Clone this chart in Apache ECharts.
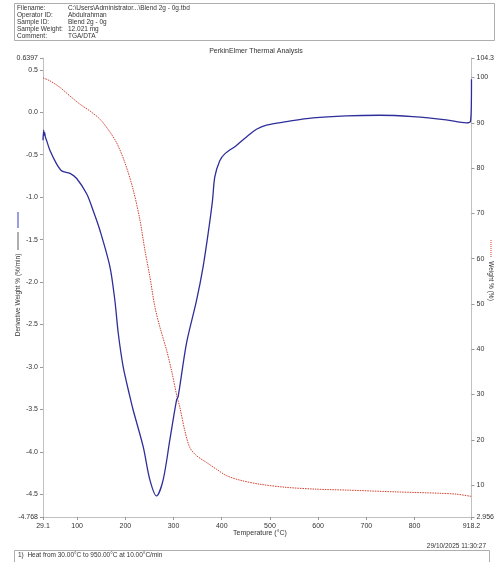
<!DOCTYPE html>
<html>
<head>
<meta charset="utf-8">
<script src="https://cdn.jsdelivr.net/npm/echarts@6/dist/echarts.min.js"></script>
<style>
html,body{margin:0;padding:0;background:#fff;}
#chart{width:497px;height:562px;}
</style>
</head>
<body>
<div id="chart"></div>
<script>
// Derivative weight curve (blue, left axis)
const blueTemp = [29.1, 30.5, 31.5, 32.5, 34, 37, 43.6, 57.5, 67.9, 85.1, 99.0, 119.7, 133.3, 147.2, 168, 178.3, 185.2, 195.5, 209.4, 216.3, 237, 250.9, 264.7, 278.4, 292.3, 306.2, 309.5, 326.9, 347.6, 361.3, 371.7, 380.8, 385.6, 395.9, 406.3, 430.5, 451.3, 472, 492.7, 534.2, 589.3, 658.5, 727.5, 796.6, 865.8, 907.2, 916, 918.0, 918.2];
const blueDeriv = [-0.33, -0.21, -0.27, -0.24, -0.29, -0.34, -0.45, -0.61, -0.69, -0.72, -0.78, -0.96, -1.16, -1.39, -1.82, -2.22, -2.60, -3.00, -3.35, -3.51, -3.94, -4.33, -4.52, -4.33, -3.86, -3.39, -3.35, -2.72, -2.22, -1.82, -1.43, -1.04, -0.76, -0.57, -0.49, -0.39, -0.29, -0.20, -0.15, -0.11, -0.066, -0.042, -0.035, -0.051, -0.089, -0.125, -0.11, 0.14, 0.39];

// Weight % curve (red dotted, right axis)
const redTemp = [29.1, 43.6, 64.3, 85.1, 105.8, 126.5, 147.2, 164.4, 181.8, 199.0, 216.3, 230.1, 240.5, 250.9, 261.2, 271.6, 285.5, 295.8, 307.4, 313.0, 323.4, 333.7, 347.6, 368.4, 389.1, 409.8, 437.4, 478.8, 534.2, 596.3, 658.5, 762.1, 851.9, 886.5, 918.2];
const redWeight = [99.9, 99.25, 97.8, 95.9, 94.1, 92.6, 90.8, 88.5, 85.6, 81.2, 75.2, 68.6, 61.9, 56.0, 49.4, 44.9, 39.8, 35.3, 29.4, 27.2, 22.0, 18.3, 16.5, 15.0, 13.5, 12.1, 11.1, 10.2, 9.5, 9.1, 8.9, 8.5, 8.2, 8.0, 7.5];

// Tick values and labels
const xTicks = [29.1, 100, 200, 300, 400, 500, 600, 700, 800, 918.2];
const xTickLabels = ['29.1', '100', '200', '300', '400', '500', '600', '700', '800', '918.2'];
const leftTicks = [-4.768, -4.5, -4.0, -3.5, -3.0, -2.5, -2.0, -1.5, -1.0, -0.5, 0.0, 0.5, 0.6397];
const leftTickLabels = ['-4.768', '-4.5', '-4.0', '-3.5', '-3.0', '-2.5', '-2.0', '-1.5', '-1.0', '-0.5', '0.0', '0.5', '0.6397'];
const rightTicks = [2.956, 10, 20, 30, 40, 50, 60, 70, 80, 90, 100, 104.3];
const rightTickLabels = ['2.956', '10', '20', '30', '40', '50', '60', '70', '80', '90', '100', '104.3'];

// Header texts
const headerLabels = ['Filename:', 'Operator ID:', 'Sample ID:', 'Sample Weight:', 'Comment:'];
const headerValues = ['C:\\Users\\Administrator...\\Blend 2g - 0g.tbd', 'Abdulrahman', 'Blend 2g - 0g', '12.021 mg', 'TGA/DTA'];

const FONT = 'Liberation Sans, Arial, sans-serif';
const lab = (ticks, labels) => v => {
  const i = ticks.findIndex(t => Math.abs(t - v) < 1e-6);
  return i >= 0 ? labels[i] : '';
};

const chart = echarts.init(document.getElementById('chart'), null, {renderer: 'canvas'});

const graphics = [];
// header box
graphics.push({type: 'rect', shape: {x: 14.5, y: 3.5, width: 480, height: 37}, style: {fill: 'none', stroke: '#999', lineWidth: 0.8}, silent: true});
headerLabels.forEach((t, i) => {
  graphics.push({type: 'text', x: 17, y: 8.5 + i * 7, style: {text: t, font: '6.5px ' + FONT, fill: '#333', textVerticalAlign: 'middle'}});
  graphics.push({type: 'text', x: 68, y: 8.5 + i * 7, style: {text: headerValues[i], font: '6.5px ' + FONT, fill: '#333', textVerticalAlign: 'middle'}});
});
// title
graphics.push({type: 'text', x: 256, y: 51, style: {text: 'PerkinElmer Thermal Analysis', font: '7px ' + FONT, fill: '#333', textAlign: 'center', textVerticalAlign: 'middle'}});
// left axis name + legend marks
graphics.push({type: 'line', shape: {x1: 18, y1: 212, x2: 18, y2: 228}, style: {stroke: '#5a5ad0', lineWidth: 1.2}});
graphics.push({type: 'line', shape: {x1: 18, y1: 232, x2: 18, y2: 250}, style: {stroke: '#777', lineWidth: 1.2}});
graphics.push({type: 'text', x: 18, y: 295, rotation: Math.PI / 2, style: {text: 'Derivative Weight % (%/min)', font: '6.5px ' + FONT, fill: '#333', textAlign: 'center', textVerticalAlign: 'middle'}});
// right axis name + legend mark
graphics.push({type: 'line', shape: {x1: 491, y1: 240, x2: 491, y2: 258}, style: {stroke: '#d04030', lineWidth: 1, lineDash: [1, 1]}});
graphics.push({type: 'text', x: 491, y: 281, rotation: -Math.PI / 2, style: {text: 'Weight % (%)', font: '6.5px ' + FONT, fill: '#333', textAlign: 'center', textVerticalAlign: 'middle'}});
// x axis name
graphics.push({type: 'text', x: 260, y: 533, style: {text: 'Temperature (\u00b0C)', font: '7px ' + FONT, fill: '#333', textAlign: 'center', textVerticalAlign: 'middle'}});
// date
graphics.push({type: 'text', x: 486, y: 546, style: {text: '29/10/2025 11:30:27', font: '6.5px ' + FONT, fill: '#333', textAlign: 'right', textVerticalAlign: 'middle'}});
// bottom box
graphics.push({type: 'rect', shape: {x: 14.5, y: 550.5, width: 475, height: 14}, style: {fill: 'none', stroke: '#999', lineWidth: 0.8}, silent: true});
graphics.push({type: 'text', x: 18, y: 555.5, style: {text: '1)  Heat from 30.00\u00b0C to 950.00\u00b0C at 10.00\u00b0C/min', font: '6.5px ' + FONT, fill: '#333', textVerticalAlign: 'middle'}});

const axisLine = {show: true, onZero: false, lineStyle: {color: '#c0c0c0', width: 1}};

chart.setOption({
  animation: false,
  backgroundColor: '#fff',
  grid: {left: 43, right: 25, top: 58, bottom: 45, containLabel: false},
  xAxis: {
    type: 'value', min: 29.1, max: 918.2,
    axisLine: axisLine, splitLine: {show: false},
    axisTick: {show: true, length: 3, lineStyle: {color: '#999'}, customValues: xTicks},
    axisLabel: {customValues: xTicks, formatter: lab(xTicks, xTickLabels), fontSize: 7, fontFamily: FONT, color: '#333', margin: 6}
  },
  yAxis: [
    {
      type: 'value', min: -4.768, max: 0.6397, position: 'left',
      axisLine: axisLine, splitLine: {show: false},
      axisTick: {show: true, length: 3, lineStyle: {color: '#999'}, customValues: leftTicks},
      axisLabel: {customValues: leftTicks, formatter: lab(leftTicks, leftTickLabels), fontSize: 7, fontFamily: FONT, color: '#333', margin: 5}
    },
    {
      type: 'value', min: 2.956, max: 104.3, position: 'right',
      axisLine: axisLine, splitLine: {show: false},
      axisTick: {show: true, length: 3, lineStyle: {color: '#999'}, customValues: rightTicks},
      axisLabel: {customValues: rightTicks, formatter: lab(rightTicks, rightTickLabels), fontSize: 7, fontFamily: FONT, color: '#333', margin: 5}
    }
  ],
  series: [
    {
      type: 'line', name: 'Weight %', yAxisIndex: 1, showSymbol: false, smooth: 0.3,
      data: redTemp.map((t, i) => [t, redWeight[i]]),
      lineStyle: {color: '#d04030', width: 1, type: [1.5, 1]}
    },
    {
      type: 'line', name: 'Derivative Weight %', yAxisIndex: 0, showSymbol: false, smooth: 0.3,
      data: blueTemp.map((t, i) => [t, blueDeriv[i]]),
      lineStyle: {color: '#2e2e9a', width: 1.3}
    }
  ],
  graphic: graphics
});
</script>
</body>
</html>
